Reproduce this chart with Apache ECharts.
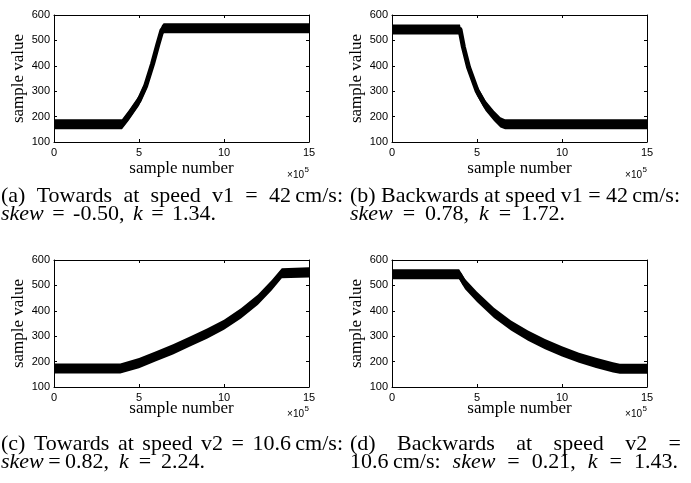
<!DOCTYPE html>
<html><head><meta charset="utf-8">
<script src="https://cdn.jsdelivr.net/npm/echarts@6/dist/echarts.min.js"></script>
<style>html,body{margin:0;padding:0;background:#fff}#c{width:691px;height:483px}</style>
</head><body><div id="c"></div>
<script>
// ---- data (x in units of 1e5 samples) ----
const xTicks = [0, 5, 10, 15];
const yTicks = [100, 200, 300, 400, 500, 600];
const xLabel = 'sample number';
const yLabel = 'sample value';

const xA = [0, 4.0, 4.1, 4.4, 5.0, 5.4, 5.8, 6.1, 6.35, 6.45, 15];
const yA = [170, 170, 175, 205, 263, 322, 408, 482, 540, 548, 548];

const xB = [0, 4.0, 4.2, 4.5, 5.0, 5.5, 6.0, 6.38, 6.65, 15];
const yB = [543, 543, 474, 395, 302, 243, 203, 177, 170, 170];

const xC = [0, 3.9, 5.0, 6.0, 7.0, 8.0, 9.0, 10.0, 11.0, 12.0, 12.8, 13.4, 13.5, 15];
const yC = [173, 173, 194, 221, 248, 279, 310, 345, 390, 444, 500, 548, 551, 551];

const xD = [0, 3.95, 4.3, 5.0, 6.0, 7.0, 8.0, 9.0, 10.0, 11.0, 12.0, 13.0, 13.4, 15];
const yD = [544, 544, 505, 455, 392, 342, 302, 269, 240, 215, 195, 177, 172, 172];

const captions = [
  {line1: ['(a)', 'Towards', 'at', 'speed', 'v1', '=', '42\u2009cm/s:'], line2: ['{i|skew}', '=', '-0.50,', '{i|k}', '=', '1.34.']},
  {line1: ['(b)', 'Backwards', 'at', 'speed', 'v1', '=', '42\u2009cm/s:'], line2: ['{i|skew}', '=', '0.78,', '{i|k}', '=', '1.72.']},
  {line1: ['(c)', 'Towards', 'at', 'speed', 'v2', '=', '10.6\u2009cm/s:'], line2: ['{i|skew}\u2009=\u20090.82,', '{i|k}', '=', '2.24.']},
  {line1: ['(d)', 'Backwards', 'at', 'speed', 'v2', '='], line2: ['10.6\u2009cm/s:', '{i|skew}', '=', '0.21,', '{i|k}', '=', '1.43.']}
];

// ---- layout ----
const panels = [
  {x: xA, y: yA, left: 54, top: 15, nameY: 169, expY: 175, cap: 0, capX0: 1, capX1: 343, cap2X1: 216, capY: 196, cap2Y: 214},
  {x: xB, y: yB, left: 392, top: 15, nameY: 169, expY: 175, cap: 1, capX0: 350, capX1: 680, cap2X1: 565, capY: 196, cap2Y: 214},
  {x: xC, y: yC, left: 54, top: 260, nameY: 409, expY: 414, cap: 2, capX0: 1, capX1: 343, cap2X1: 205, capY: 444, cap2Y: 462},
  {x: xD, y: yD, left: 392, top: 260, nameY: 409, expY: 414, cap: 3, capX0: 350, capX1: 681, cap2X1: 678, capY: 444, cap2Y: 462}
];
const GW = 255, GH = 127, HALF = 20;
const tickFont = 'Liberation Sans';
const serif = 'Liberation Serif';
const capSize = 22;

const grids = [], xAxes = [], yAxes = [], series = [], graphics = [];
const lineCol = '#000';
const mctx = document.createElement('canvas').getContext('2d');

function measure(tok) {
  let w = 0;
  const re = /\{i\|([^}]*)\}|([^{]+)/g;
  let m;
  while ((m = re.exec(tok))) {
    if (m[1] !== undefined) { mctx.font = 'italic ' + capSize + 'px "' + serif + '"'; w += mctx.measureText(m[1]).width; }
    else { mctx.font = capSize + 'px "' + serif + '"'; w += mctx.measureText(m[2]).width; }
  }
  return w;
}
function justify(tokens, x0, x1, y) {
  const font = capSize + 'px "' + serif + '"';
  const widths = tokens.map(measure);
  const total = widths.reduce((a, b) => a + b, 0);
  let gap = (x1 - x0 - total) / (tokens.length - 1);
  mctx.font = font;
  const sp = mctx.measureText(' ').width;
  if (gap < sp * 0.8) gap = sp * 0.8;
  let cx = x0;
  tokens.forEach((w, k) => {
    graphics.push({type: 'text', x: cx, y: y,
      style: {text: w, fill: '#000', font: font, align: 'left', verticalAlign: 'middle',
        rich: {i: {fontStyle: 'italic', fontSize: capSize, fontFamily: serif}}}});
    cx += widths[k] + gap;
  });
}

panels.forEach((p, i) => {
  grids.push({left: p.left, top: p.top, width: GW, height: GH});
  ['bottom', 'top'].forEach(pos => {
    xAxes.push({
      type: 'value', gridIndex: i, position: pos, min: xTicks[0], max: xTicks[xTicks.length - 1],
      interval: xTicks[1] - xTicks[0], z: 10,
      axisLine: {show: true, onZero: false, lineStyle: {color: lineCol, width: 1}},
      axisTick: {show: true, inside: true, length: 3, lineStyle: {color: lineCol}},
      axisLabel: {show: pos === 'bottom', margin: 5, color: '#000', fontSize: 11, fontFamily: tickFont},
      splitLine: {show: false}
    });
  });
  ['left', 'right'].forEach(pos => {
    yAxes.push({
      type: 'value', gridIndex: i, position: pos, min: yTicks[0], max: yTicks[yTicks.length - 1],
      interval: yTicks[1] - yTicks[0], z: 10,
      axisLine: {show: true, onZero: false, lineStyle: {color: lineCol, width: 1}},
      axisTick: {show: true, inside: true, length: 3, lineStyle: {color: lineCol}},
      axisLabel: {show: pos === 'left', margin: 4, color: '#000', fontSize: 11, fontFamily: tickFont},
      splitLine: {show: false}
    });
  });
  const xi = 2 * i, yi = 2 * i;
  series.push({
    type: 'line', xAxisIndex: xi, yAxisIndex: yi, symbol: 'none', silent: true, z: 2,
    lineStyle: {opacity: 0}, areaStyle: {color: '#000', opacity: 1, origin: 'start'},
    data: p.x.map((x, k) => [x, p.y[k] + HALF])
  });
  series.push({
    type: 'line', xAxisIndex: xi, yAxisIndex: yi, symbol: 'none', silent: true, z: 3,
    lineStyle: {opacity: 0}, areaStyle: {color: '#fff', opacity: 1, origin: 'start'},
    data: p.x.map((x, k) => [x, p.y[k] - HALF])
  });
  series.push({
    type: 'line', xAxisIndex: xi, yAxisIndex: yi, symbol: 'none', silent: true, z: 4,
    lineStyle: {color: '#000', width: 5, join: 'round'},
    data: p.x.map((x, k) => [x, p.y[k]])
  });

  graphics.push({type: 'text', x: p.left + GW / 2, y: p.nameY,
    style: {text: xLabel, fill: '#000', font: '17px "' + serif + '"', align: 'center', verticalAlign: 'middle'}});
  graphics.push({type: 'text', x: p.left - 35, y: p.top + GH / 2, rotation: Math.PI / 2,
    style: {text: yLabel, fill: '#000', font: '17px "' + serif + '"', align: 'center', verticalAlign: 'middle'}});
  graphics.push({type: 'text', x: p.left + GW - 5, y: p.expY,
    style: {text: '\u00d710', fill: '#000', font: '10px "' + tickFont + '"', align: 'right', verticalAlign: 'middle'}});
  graphics.push({type: 'text', x: p.left + GW - 4.5, y: p.expY - 5,
    style: {text: '5', fill: '#000', font: '8px "' + tickFont + '"', align: 'left', verticalAlign: 'middle'}});

  const c = captions[p.cap];
  justify(c.line1, p.capX0, p.capX1, p.capY);
  justify(c.line2, p.capX0, p.cap2X1, p.cap2Y);
});

const chart = echarts.init(document.getElementById('c'), null, {renderer: 'canvas'});
chart.setOption({
  animation: false,
  backgroundColor: '#fff',
  grid: grids, xAxis: xAxes, yAxis: yAxes, series: series,
  graphic: graphics
});
</script></body></html>
